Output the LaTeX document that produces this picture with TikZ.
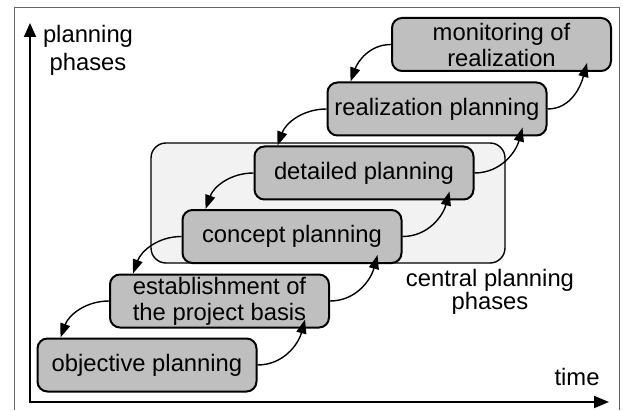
\documentclass[tikz,border=0pt]{standalone}
\usepackage{fontspec}
\setmainfont{Liberation Sans}
\usetikzlibrary{arrows.meta}
\definecolor{BoxClr}{rgb}{0.75,0.75,0.75}
\definecolor{CentralClr}{rgb}{0.95,0.95,0.95}
\definecolor{FrameClr}{rgb}{0.4,0.4,0.4}

\begin{document}
\begin{tikzpicture}[x=1pt,y=1pt,
  phase/.style={draw,line width=2pt,fill=BoxClr,rounded corners=10pt,
    minimum width=219pt,minimum height=53pt,inner sep=0pt,align=center},
  flow/.style={line width=1.4pt,-{Triangle[length=14pt,width=10pt]}},
  axis/.style={line width=1.8pt,{Triangle[length=14pt,width=12pt]}-{Triangle[length=15pt,width=12pt]}}]
\fontsize{23.8}{26}\selectfont
\useasboundingbox (0,0) rectangle (623,410);

% frame and central phases
\draw[FrameClr,line width=1pt] (14,0) -- (14,402) -- (619,402) -- (619,0);
\draw[line width=1.4pt,fill=CentralClr,rounded corners=15pt] (151,147) rectangle (505,267);

% axes
\coordinate (O) at (30,8);
\coordinate (Y) at (30,387);
\coordinate (X) at (609,8);
\draw[axis] (Y) -- (O) -- (X);
\node[align=center,font=\fontsize{23.8}{28}\selectfont] (ylabel) at (88,360) {planning\\phases};
\node[anchor=base] (xlabel) at (577,24.5) {time};
\node[align=center,font=\fontsize{23.8}{22}\selectfont] (clabel) at (490,118) {central planning\\phases};

% phases
\node[phase] (obj) at (147,45) {objective planning};
\node[phase] (est) at (219.5,109) {establishment of\\the project basis};
\node[phase] (con) at (292,173.5) {concept planning};
\node[phase] (det) at (364,237) {detailed planning};
\node[phase] (rea) at (437,301) {realization planning};
\node[phase] (mon) at (501.5,365.5) {monitoring of\\realization};

% feedback and forward arrows
\foreach \a/\b in {mon/rea,rea/det,det/con,con/est,est/obj}
  \draw[flow] (\a.west) to[out=180,in=70] ([xshift=24pt]\b.north west);
\foreach \a/\b in {obj/est,est/con,con/det,det/rea,rea/mon}
  \draw[flow] (\a.east) to[out=0,in=-105] ([shift={(-25pt,9pt)}]\b.south east);
\end{tikzpicture}
\end{document}
